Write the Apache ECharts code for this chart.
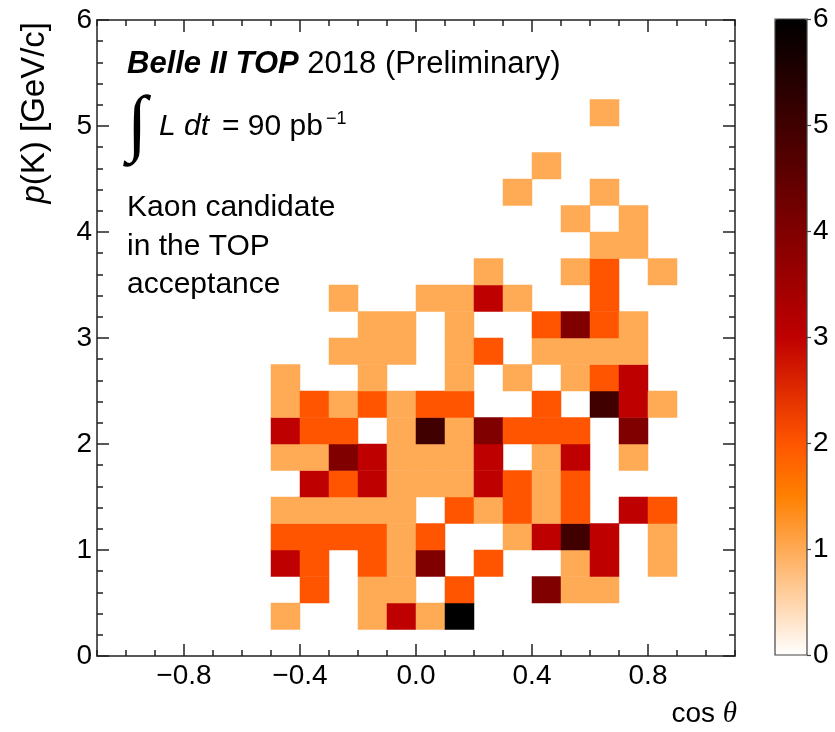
<!DOCTYPE html>
<html><head><meta charset="utf-8">
<script src="https://cdn.jsdelivr.net/npm/echarts@6/dist/echarts.min.js"></script>
<style>html,body{margin:0;padding:0;background:#fff}#chart{width:835px;height:732px}</style>
</head><body><div id="chart"></div>
<script>
// ---- data ----
const cosThetaBinLow = [-1.1,-1.0,-0.9,-0.8,-0.7,-0.6,-0.5,-0.4,-0.3,-0.2,-0.1,0.0,0.1,0.2,0.3,0.4,0.5,0.6,0.7,0.8,0.9,1.0];
const pBinLow = [0,0.25,0.5,0.75,1,1.25,1.5,1.75,2,2.25,2.5,2.75,3,3.25,3.5,3.75,4,4.25,4.5,4.75,5,5.25,5.5,5.75];
// entries per p(K) bin, across the 22 cos(theta) bins
const countsP0_00 = [0,0,0,0,0,0, 0,0,0,0,0,0,0,0,0,0,0,0,0,0, 0,0];
const countsP0_25 = [0,0,0,0,0,0, 1,0,0,1,3,1,6,0,0,0,0,0,0,0, 0,0];
const countsP0_50 = [0,0,0,0,0,0, 0,2,0,1,1,0,2,0,0,4,1,1,0,0, 0,0];
const countsP0_75 = [0,0,0,0,0,0, 3,2,0,2,1,4,0,2,0,0,1,3,0,1, 0,0];
const countsP1_00 = [0,0,0,0,0,0, 2,2,2,2,1,2,0,0,1,3,5,3,0,1, 0,0];
const countsP1_25 = [0,0,0,0,0,0, 1,1,1,1,1,0,2,1,2,1,2,0,3,2, 0,0];
const countsP1_50 = [0,0,0,0,0,0, 0,3,2,3,1,1,1,3,2,1,2,0,0,0, 0,0];
const countsP1_75 = [0,0,0,0,0,0, 1,1,4,3,1,1,1,3,0,1,3,0,1,0, 0,0];
const countsP2_00 = [0,0,0,0,0,0, 3,2,2,0,1,5,1,4,2,2,2,0,4,0, 0,0];
const countsP2_25 = [0,0,0,0,0,0, 1,2,1,2,1,2,2,0,0,2,0,5,3,1, 0,0];
const countsP2_50 = [0,0,0,0,0,0, 1,0,0,1,0,0,1,0,1,0,1,2,3,0, 0,0];
const countsP2_75 = [0,0,0,0,0,0, 0,0,1,1,1,0,1,2,0,1,1,1,1,0, 0,0];
const countsP3_00 = [0,0,0,0,0,0, 0,0,0,1,1,0,1,0,0,2,4,2,1,0, 0,0];
const countsP3_25 = [0,0,0,0,0,0, 0,0,1,0,0,1,1,3,1,0,0,2,0,0, 0,0];
const countsP3_50 = [0,0,0,0,0,0, 0,0,0,0,0,0,0,1,0,0,1,2,0,1, 0,0];
const countsP3_75 = [0,0,0,0,0,0, 0,0,0,0,0,0,0,0,0,0,0,1,1,0, 0,0];
const countsP4_00 = [0,0,0,0,0,0, 0,0,0,0,0,0,0,0,0,0,1,0,1,0, 0,0];
const countsP4_25 = [0,0,0,0,0,0, 0,0,0,0,0,0,0,0,1,0,0,1,0,0, 0,0];
const countsP4_50 = [0,0,0,0,0,0, 0,0,0,0,0,0,0,0,0,1,0,0,0,0, 0,0];
const countsP4_75 = [0,0,0,0,0,0, 0,0,0,0,0,0,0,0,0,0,0,0,0,0, 0,0];
const countsP5_00 = [0,0,0,0,0,0, 0,0,0,0,0,0,0,0,0,0,0,1,0,0, 0,0];
const countsP5_25 = [0,0,0,0,0,0, 0,0,0,0,0,0,0,0,0,0,0,0,0,0, 0,0];
const countsP5_50 = [0,0,0,0,0,0, 0,0,0,0,0,0,0,0,0,0,0,0,0,0, 0,0];
const countsP5_75 = [0,0,0,0,0,0, 0,0,0,0,0,0,0,0,0,0,0,0,0,0, 0,0];
const countRows = [countsP0_00,countsP0_25,countsP0_50,countsP0_75,countsP1_00,countsP1_25,
  countsP1_50,countsP1_75,countsP2_00,countsP2_25,countsP2_50,countsP2_75,countsP3_00,countsP3_25,
  countsP3_50,countsP3_75,countsP4_00,countsP4_25,countsP4_50,countsP4_75,countsP5_00,countsP5_25,
  countsP5_50,countsP5_75];

const xMajorTicks = [-0.8,-0.4,0,0.4,0.8];
const xTickLabels = ['\u22120.8','\u22120.4','0.0','0.4','0.8'];
const colorScaleMin = 0, colorScaleMax = 6;
// gist_heat (reversed) colour stops at 0, 0.5, 1, ... 6
const heatColors = ['#ffffff','#ffd4aa','#ffaa55','#ff8000','#ff5500','#df2a00','#bf0000',
  '#9f0000','#800000','#600000','#400000','#200000','#000000'];

// ---- build ----
const heatData = [];
countRows.forEach((row, r) => row.forEach((v, k) => { if (v > 0) heatData.push([k, r, v]); }));

const FONT = 'Liberation Sans';
const lineC = '#222';
const lineW = 1.5;
const chart = echarts.init(document.getElementById('chart'), null, {renderer: 'canvas'});

function frameX(pos, major, showLabel, name) {
  return {
    type: 'value', gridIndex: 0, position: pos, min: -1.1, max: 1.1,
    axisLine: {show: major, onZero: false, lineStyle: {color: lineC, width: lineW}},
    axisTick: major ? {show: true, inside: true, length: 12, customValues: xMajorTicks, lineStyle: {color: lineC, width: lineW}}
                    : {show: true, inside: true, length: 6, lineStyle: {color: lineC, width: lineW}},
    axisLabel: major ? {show: showLabel, customValues: xMajorTicks, margin: 6, fontSize: 28, fontFamily: FONT, color: '#000',
                        formatter: v => xTickLabels[xMajorTicks.findIndex(t => Math.abs(t - v) < 1e-6)]}
                     : {show: false},
    interval: major ? undefined : 0.1,
    splitLine: {show: false},
    name: name || '', nameLocation: 'end', nameGap: 2, nameMoveOverlap: false,
    nameTextStyle: {align: 'right', verticalAlign: 'top', padding: [44, 0, 0, 0],
      rich: {r: {fontSize: 28, fontFamily: FONT, color: '#000'}, i: {fontSize: 29, fontFamily: 'Liberation Serif', fontStyle: 'italic', color: '#000'}}}
  };
}
function frameY(pos, showLabel, name) {
  return {
    type: 'value', gridIndex: 0, position: pos, min: 0, max: 6, interval: 1,
    axisLine: {show: true, onZero: false, lineStyle: {color: lineC, width: lineW}},
    axisTick: {show: true, inside: true, length: 12, lineStyle: {color: lineC, width: lineW}},
    minorTick: {show: true, splitNumber: 5, length: 6, lineStyle: {color: lineC, width: lineW}},
    axisLabel: {show: showLabel, margin: 5, fontSize: 28, fontFamily: FONT, color: '#000'},
    splitLine: {show: false}, minorSplitLine: {show: false},
    name: name || '', nameLocation: 'end', nameRotate: 90, nameGap: -2, nameMoveOverlap: false,
    nameTextStyle: {align: 'right', verticalAlign: 'bottom', padding: [0, 0, 46, 0],
      rich: {r: {fontSize: 33, fontFamily: FONT, color: '#000'}, i: {fontSize: 33, fontFamily: FONT, fontStyle: 'italic', color: '#000'}}}
  };
}

const option = {
  animation: false,
  backgroundColor: '#ffffff',
  grid: [
    {left: 97, top: 20, width: 638, height: 636},
    {left: 775, top: 19, width: 32, height: 636, show: true, borderColor: '#444', borderWidth: 1.2, backgroundColor: 'transparent', z: 10}
  ],
  xAxis: [
    {type: 'category', gridIndex: 0, data: cosThetaBinLow.map(String), show: false},
    frameX('bottom', true, true, '{r|cos }{i|\u03b8}'),
    frameX('bottom', false, false),
    frameX('top', true, false),
    frameX('top', false, false),
    {type: 'value', gridIndex: 1, min: 0, max: 1, show: false}
  ],
  yAxis: [
    {type: 'category', gridIndex: 0, data: pBinLow.map(String), show: false},
    frameY('left', true, '{i|p}{r|(K) [GeV/c]}'),
    frameY('right', false),
    {type: 'value', gridIndex: 1, position: 'right', min: colorScaleMin, max: colorScaleMax, interval: 1,
     axisLine: {show: false, onZero: false},
     axisTick: {show: true, inside: false, length: 4, lineStyle: {color: '#444', width: 1.2}},
     axisLabel: {margin: 6, fontSize: 28, fontFamily: FONT, color: '#000'},
     splitLine: {show: false}}
  ],
  visualMap: {
    type: 'continuous', min: colorScaleMin, max: colorScaleMax, seriesIndex: 0, dimension: 2,
    inRange: {color: heatColors},
    left: 775, top: 19, itemWidth: 32, itemHeight: 636, padding: 0,
    calculable: false, hoverLink: false, showLabel: false, text: null
  },
  series: [{
    type: 'heatmap', xAxisIndex: 0, yAxisIndex: 0, data: heatData,
    itemStyle: {borderWidth: 0}, emphasis: {disabled: true}, progressive: 0
  }],
  graphic: [
    {type: 'text', x: 127, y: 64.3, style: {text: '{b|Belle II TOP}{r| 2018 (Preliminary)}', verticalAlign: 'middle',
      rich: {b: {fontFamily: FONT, fontWeight: 'bold', fontStyle: 'italic', fontSize: 31, fill: '#000'},
             r: {fontFamily: FONT, fontSize: 31, fill: '#000'}}}},
    {type: 'text', x: 127, y: 128, style: {text: '\u222b', fontFamily: 'Liberation Serif', fontStyle: 'italic', fontSize: 74, fill: '#000', verticalAlign: 'middle'}},
    {type: 'text', x: 159, y: 126.3, style: {text: 'L dt', fontFamily: FONT, fontStyle: 'italic', fontSize: 30, fill: '#000', verticalAlign: 'middle'}},
    {type: 'text', x: 222, y: 126.3, style: {text: '= 90 pb', fontFamily: FONT, fontSize: 30, fill: '#000', verticalAlign: 'middle'}},
    {type: 'text', x: 326, y: 118.8, style: {text: '\u22121', fontFamily: FONT, fontSize: 18, fill: '#000', verticalAlign: 'middle'}},
    {type: 'text', x: 127, y: 207.9, style: {text: 'Kaon candidate', fontFamily: FONT, fontSize: 30, fill: '#000', verticalAlign: 'middle'}},
    {type: 'text', x: 127, y: 246.3, style: {text: 'in the TOP', fontFamily: FONT, fontSize: 30, fill: '#000', verticalAlign: 'middle'}},
    {type: 'text', x: 127, y: 284.6, style: {text: 'acceptance', fontFamily: FONT, fontSize: 30, fill: '#000', verticalAlign: 'middle'}}
  ]
};
chart.setOption(option);
</script>
</body></html>
